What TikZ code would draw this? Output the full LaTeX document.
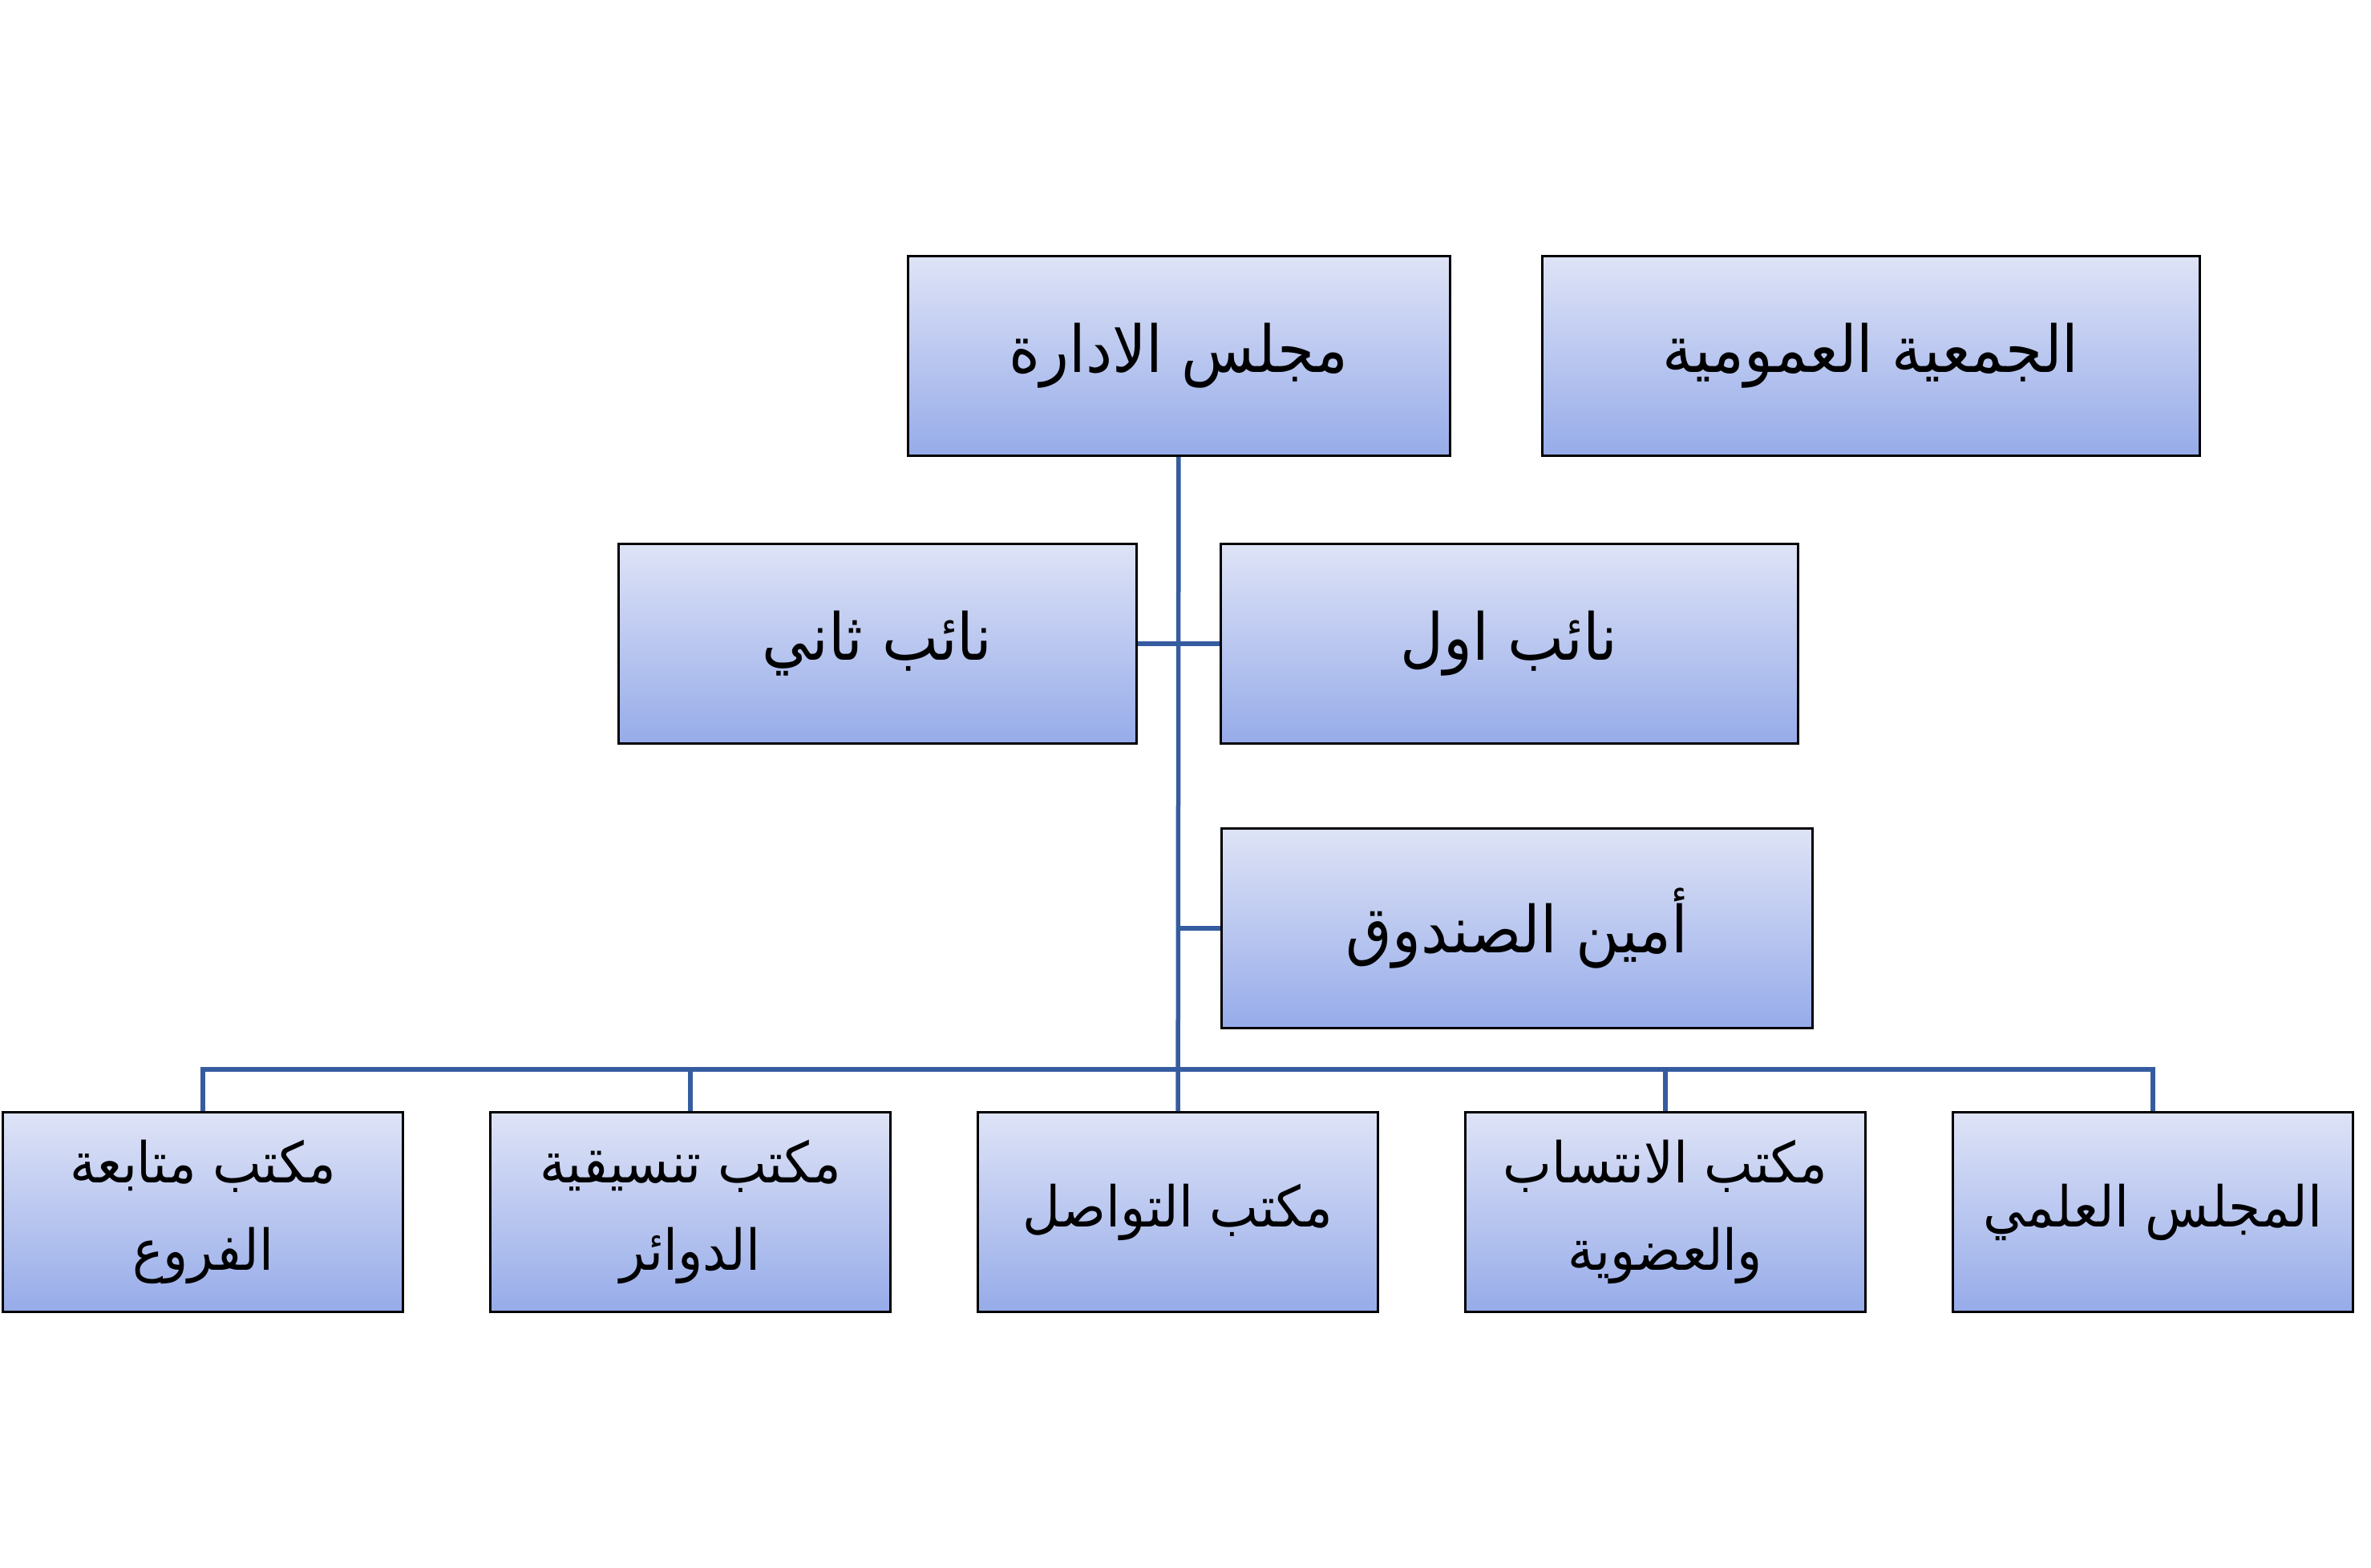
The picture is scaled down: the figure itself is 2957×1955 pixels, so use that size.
\documentclass[tikz,border=0pt]{standalone}
\usepackage{fontspec}
\newfontfamily\arabicfont[Script=Arabic, FakeStretch=0.92]{DejaVu Sans}
\TeXXeTstate=1
\usetikzlibrary{positioning}
\definecolor{linkblue}{RGB}{54,92,160}
\definecolor{boxtop}{RGB}{222,227,246}
\definecolor{boxbot}{RGB}{150,171,233}
\tikzset{
    post/.style={draw=black, line width=0.3mm, top color=boxtop, bottom color=boxbot,
        minimum height=24.9mm, align=center, inner sep=0pt,
        font=\arabicfont\fontsize{23}{27}\selectfont},
    office/.style={post, minimum width=49.9mm,
        font=\arabicfont\fontsize{20}{31}\selectfont},
    link/.style={draw=linkblue, line width=0.55mm},
}
\begin{document}
\begin{tikzpicture}[x=0.1mm, y=-0.1mm]
    \useasboundingbox (0,0) rectangle (2957,1955);
    \node [post, minimum width=67.6mm] (board) at (1470,444) {\beginR مجلس الادارة\endR};
    \node [post, minimum width=82.0mm] (assembly) at (2333,444) {\beginR الجمعية العمومية\endR};
    \node [post, minimum width=64.6mm] (vice2) at (1094,803) {\beginR نائب ثاني\endR};
    \node [post, minimum width=72.0mm] (vice1) at (1882,803) {\beginR نائب اول\endR};
    \node [post, minimum width=73.7mm] (treasurer) at (1892,1158) {\beginR أمين الصندوق\endR};

    \node [office] (branches) at (253,1512) {\beginR مكتب متابعة\endR\\\beginR الفروع\endR};
    \node [office] (circles) at (861,1512) {\beginR مكتب تنسيقية\endR\\\beginR الدوائر\endR};
    \node [office] (contact) at (1469,1512) {\beginR مكتب التواصل\endR};
    \node [office] (members) at (2077,1512) {\beginR مكتب الانتساب\endR\\\beginR والعضوية\endR};
    \node [office] (science) at (2685,1512) {\beginR المجلس العلمي\endR};
    \coordinate (bus) at (1469,1334);

    %\node [dot] at (bus) {};
    \draw [link] (board) -- (contact);
    \draw [link] (vice2) -- (vice1);
    \draw [link] (treasurer.west) -- (treasurer.west -| board);
    \draw [link] (branches.north) |- (bus) -| (science.north);
    \foreach \n in {circles, members}
        \draw [link] (\n.north) -- (\n.north |- bus);
\end{tikzpicture}
\end{document}
